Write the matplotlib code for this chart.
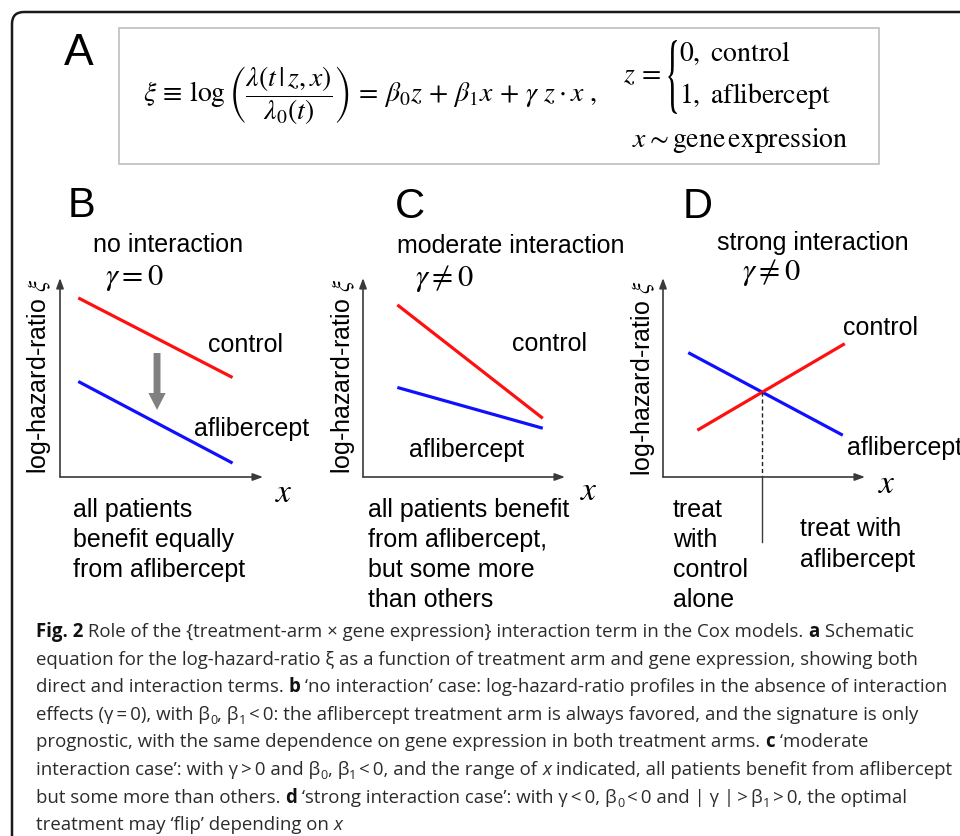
import matplotlib
matplotlib.use("Agg")
import matplotlib.pyplot as plt
from matplotlib.patches import FancyBboxPatch, Rectangle, PathPatch, FancyArrow
from matplotlib.textpath import TextPath
from matplotlib.font_manager import FontProperties
from matplotlib.path import Path

plt.rcParams["mathtext.fontset"] = "stix"

# ---------------------------------------------------------------- data
# schematic log-hazard-ratio profiles (arbitrary units on a 0..10 frame)
b_x = [0.9, 8.5]
b_control = [9.0, 5.0]
b_aflibercept = [4.8, 0.7]

c_x = [1.7, 8.9]
c_control = [8.65, 2.95]
c_aflibercept = [4.5, 2.45]

d_control_x = [1.7, 9.0]
d_control = [2.35, 6.7]
d_aflibercept_x = [1.25, 8.9]
d_aflibercept = [6.25, 2.1]

panel_letters = ["B", "C", "D"]
panel_titles = ["no interaction", "moderate interaction", "strong interaction"]
panel_gammas = [r"$\gamma = 0$", r"$\gamma \neq 0$", r"$\gamma \neq 0$"]
arm_labels = ["control", "aflibercept"]
ylabel_text = r"log-hazard-ratio $\xi$"

b_note = ["all patients", "benefit equally", "from aflibercept"]
c_note = ["all patients benefit", "from aflibercept,", "but some more", "than others"]
d_note_left = ["treat", "with", "control", "alone"]
d_note_right = ["treat with", "aflibercept"]

caption_lines = [
    [("B", "Fig. 2"), ("R", " Role of the {treatment-arm \u00d7 gene expression} interaction term in the Cox models. "),
     ("B", "a"), ("R", " Schematic")],
    [("R", "equation for the log-hazard-ratio \u03be as a function of treatment arm and gene expression, showing both")],
    [("R", "direct and interaction terms. "), ("B", "b"),
     ("R", " \u2018no interaction\u2019 case: log-hazard-ratio profiles in the absence of interaction")],
    [("R", "effects (\u03b3\u2009=\u20090), with \u03b2"), ("S", "0"), ("R", ", \u03b2"), ("S", "1"),
     ("R", "\u2009<\u20090: the aflibercept treatment arm is always favored, and the signature is only")],
    [("R", "prognostic, with the same dependence on gene expression in both treatment arms. "), ("B", "c"),
     ("R", " \u2018moderate")],
    [("R", "interaction case\u2019: with \u03b3\u2009>\u20090 and \u03b2"), ("S", "0"), ("R", ", \u03b2"), ("S", "1"),
     ("R", "\u2009<\u20090, and the range of "), ("I", "x"),
     ("R", " indicated, all patients benefit from aflibercept")],
    [("R", "but some more than others. "), ("B", "d"),
     ("R", " \u2018strong interaction case\u2019: with \u03b3\u2009<\u20090, \u03b2"), ("S", "0"),
     ("R", "\u2009<\u20090 and | \u03b3 |\u2009>\u2009\u03b2"), ("S", "1"), ("R", "\u2009>\u20090, the optimal")],
    [("R", "treatment may \u2018flip\u2019 depending on "), ("I", "x")],
]

# ---------------------------------------------------------------- figure
W, H = 960, 836
fig = plt.figure(figsize=(W / 100, H / 100), dpi=100)
base = fig.add_axes([0, 0, 1, 1])
base.set_xlim(0, W)
base.set_ylim(H, 0)
base.axis("off")

SANS = ["Liberation Sans", "DejaVu Sans"]
CAPF = ["Open Sans", "DejaVu Sans"]
RED = "#ff1010"
BLUE = "#1010ff"
AXC = "#3a3a3a"

# outer rounded frame (runs off the right and bottom edges)
frame = FancyBboxPatch((12, 12), 1100, 1000, boxstyle="round,pad=0,rounding_size=12",
                       fill=False, ec="#1a1a1a", lw=1.8)
base.add_patch(frame)

# ---------------------------------------------------------------- panel A
base.text(64, 65, "A", fontsize=32, family=SANS, va="baseline", ha="left")
base.add_patch(Rectangle((119, 28), 760, 136, fill=False, ec="#c4c4c4", lw=1.3))

EQ = 20
base.text(143, 96,
          r"$\xi\, \equiv\, \log\left(\dfrac{\lambda(t\,|\,z, x)}{\lambda_0(t)}\right)\,=\,"
          r"\beta_0 z\,+\,\beta_1 x\,+\,\gamma\ z \cdot x\ ,$",
          fontsize=EQ, va="center", ha="left")
base.text(623, 82, r"$z\,=$", fontsize=EQ, va="baseline", ha="left")
base.text(679, 61, r"$0,\ \mathrm{control}$", fontsize=EQ, va="baseline", ha="left")
base.text(679, 103, r"$1,\ \mathrm{aflibercept}$", fontsize=EQ, va="baseline", ha="left")
base.text(632, 147, r"$x \sim \mathrm{gene\,expression}$", fontsize=EQ, va="baseline", ha="left")

# tall curly brace built from a STIX glyph outline
bp = TextPath((0, 0), "{", size=1, prop=FontProperties(family="STIXGeneral"))
ext = bp.get_extents()
bx0, bx1, by0, by1 = 668, 677, 40, 114
verts = bp.vertices.copy()
verts[:, 0] = bx0 + (verts[:, 0] - ext.x0) / ext.width * (bx1 - bx0)
verts[:, 1] = by1 - (verts[:, 1] - ext.y0) / ext.height * (by1 - by0)
base.add_patch(PathPatch(Path(verts, bp.codes), fc="black", ec="none"))

# ---------------------------------------------------------------- panels B-D
origins = [(60, 477, 203), (363, 477, 202), (663, 477, 202)]
AX_H = 199
axes = []
for (ox, oy, w) in origins:
    ax = fig.add_axes([ox / W, (H - oy) / H, w / W, AX_H / H])
    ax.set_xlim(0, 10)
    ax.set_ylim(0, 10)
    ax.axis("off")
    arrow = dict(arrowstyle="-|>,head_length=0.6,head_width=0.22", color=AXC, lw=1.2,
                 shrinkA=0, shrinkB=0)
    ax.annotate("", xy=(10, 0), xytext=(0, 0), arrowprops=arrow, annotation_clip=False)
    ax.annotate("", xy=(0, 10), xytext=(0, 0), arrowprops=arrow, annotation_clip=False)
    axes.append(ax)

axB, axC, axD = axes
LW = 2.3
axB.plot(b_x, b_control, color=RED, lw=LW, solid_capstyle="butt")
axB.plot(b_x, b_aflibercept, color=BLUE, lw=LW, solid_capstyle="butt")
axB.add_patch(FancyArrow(4.78, 6.23, 0, -2.86, width=0.34, head_width=0.85, head_length=0.85,
                         length_includes_head=True, color="#808080", lw=0))

axC.plot(c_x, c_control, color=RED, lw=LW, solid_capstyle="butt")
axC.plot(c_x, c_aflibercept, color=BLUE, lw=LW, solid_capstyle="butt")

axD.plot(d_aflibercept_x, d_aflibercept, color=BLUE, lw=LW, solid_capstyle="butt")
axD.plot(d_control_x, d_control, color=RED, lw=LW, solid_capstyle="butt")
# crossing point of the two arms
sc = (d_control[1] - d_control[0]) / (d_control_x[1] - d_control_x[0])
sa = (d_aflibercept[1] - d_aflibercept[0]) / (d_aflibercept_x[1] - d_aflibercept_x[0])
ic = d_control[0] - sc * d_control_x[0]
ia = d_aflibercept[0] - sa * d_aflibercept_x[0]
xc = (ia - ic) / (sc - sa)
yc = sc * xc + ic
axD.plot([xc, xc], [yc, 0], color="#222222", lw=1.0, dashes=(3, 2))
axD.plot([xc, xc], [0, -3.27], color=AXC, lw=1.0, clip_on=False)

# ---------------------------------------------------------------- panel texts
TS = 18


def txt(x, y, s, size=TS, **kw):
    base.text(x, y, s, fontsize=size, family=SANS, va="baseline", ha="left", **kw)


letter_pos = [(68, 217), (395, 218), (683, 218)]
title_pos = [(93, 252), (397, 253), (717, 250)]
gamma_pos = [(105, 285), (415, 286), (742, 280)]
for (lx, ly), (tx, ty), (gx, gy), L, T, G in zip(letter_pos, title_pos, gamma_pos,
                                                panel_letters, panel_titles, panel_gammas):
    txt(lx, ly, L, size=30)
    txt(tx, ty, T)
    base.text(gx, gy, G, fontsize=22, va="baseline", ha="left")

control_pos = [(208, 352), (512, 351), (843, 335)]
aflib_pos = [(194, 436), (409, 457), (847, 455)]
xlab_pos = [(275, 502), (580, 500), (878, 493)]
ylab_pos = [(39, 376), (343, 376), (643, 378)]
for (cx, cy), (ax_, ay), (xx, xy), (yx, yy) in zip(control_pos, aflib_pos, xlab_pos, ylab_pos):
    txt(cx, cy, arm_labels[0])
    txt(ax_, ay, arm_labels[1])
    base.text(xx, xy, r"$x$", fontsize=24, va="baseline", ha="left")
    base.text(yx, yy, ylabel_text, fontsize=TS, family=SANS, rotation=90,
              ha="center", va="center")

for i, line in enumerate(b_note):
    txt(73, 517 + 30 * i, line)
for i, line in enumerate(c_note):
    txt(368, 517 + 30 * i, line)
for i, line in enumerate(d_note_left):
    txt(673, 517 + 30 * i, line)
for i, line in enumerate(d_note_right):
    txt(800, 536 + 31 * i, line)

# ---------------------------------------------------------------- caption
CS = 13.4
CCOL = "#2b2b2b"
renderer = fig.canvas.get_renderer()
styles = {
    "R": dict(fontsize=CS, family=CAPF, color=CCOL),
    "B": dict(fontsize=CS, family=CAPF, color="#111111", weight="bold"),
    "I": dict(fontsize=CS, family=CAPF, color=CCOL, style="italic"),
    "S": dict(fontsize=CS * 0.68, family=CAPF, color=CCOL),
}


def width_of(s, kw):
    t1 = base.text(0, 0, "|" + s + "|", **kw)
    t2 = base.text(0, 0, "||", **kw)
    w = t1.get_window_extent(renderer).width - t2.get_window_extent(renderer).width
    t1.remove()
    t2.remove()
    return w


y0 = 637
for k, line in enumerate(caption_lines):
    x = 36
    y = y0 + 27.6 * k
    for kind, s in line:
        kw = styles[kind]
        dy = 4 if kind == "S" else 0
        base.text(x, y + dy, s, va="baseline", ha="left", **kw)
        x += width_of(s, kw)

fig.savefig("out.png", dpi=100)
